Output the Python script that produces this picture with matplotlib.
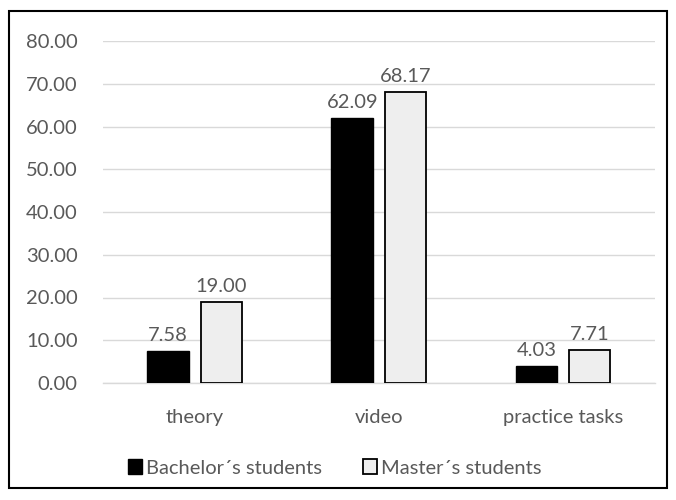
#### Workspace setup ####
import numpy as np
import matplotlib
matplotlib.use("Agg")
import matplotlib.pyplot as plt
from matplotlib.patches import Rectangle

#### Data ####
categories = ["theory", "video", "practice tasks"]
bachelor = [7.58, 62.09, 4.03]
master = [19.00, 68.17, 7.71]
series_names = ["Bachelor\u00b4s students", "Master\u00b4s students"]
y_ticks = [0, 10, 20, 30, 40, 50, 60, 70, 80]

TEXT_GREY = "#595959"
GRID_GREY = "#d9d9d9"
FS = 14.5


def main():
    plt.rcParams["font.family"] = ["Lato", "DejaVu Sans"]
    fig = plt.figure(figsize=(6.76, 5.0), dpi=100)
    ax = fig.add_axes([0.152, 0.234, 0.817, 0.684])

    x = np.arange(len(categories))
    width = 0.225
    gap = 0.065
    off = (width + gap) / 2

    bars_b = ax.bar(x - off, bachelor, width, color="black", edgecolor="black",
                    linewidth=1.0, label=series_names[0], zorder=3)
    bars_m = ax.bar(x + off, master, width, color="#eeeeee", edgecolor="black",
                    linewidth=1.3, label=series_names[1], zorder=3)

    # Data labels
    for bars in (bars_b, bars_m):
        ax.bar_label(bars, labels=[f"{v:.2f}" for v in bars.datavalues],
                     padding=5, fontsize=FS, color=TEXT_GREY)

    # Axes styling
    ax.set_ylim(0, 80)
    ax.set_xlim(-0.5, len(categories) - 0.5)
    ax.set_yticks(y_ticks)
    ax.set_yticklabels([f"{t:.2f}" for t in y_ticks])
    ax.set_xticks(x)
    ax.set_xticklabels(categories)
    ax.tick_params(axis="both", length=0, labelsize=FS, labelcolor=TEXT_GREY)
    ax.tick_params(axis="y", pad=18)
    ax.tick_params(axis="x", pad=19)
    ax.yaxis.grid(True, color=GRID_GREY, linewidth=1.0, zorder=0)
    ax.set_axisbelow(True)
    for side in ("top", "right", "left"):
        ax.spines[side].set_visible(False)
    ax.spines["bottom"].set_color(GRID_GREY)
    ax.spines["bottom"].set_linewidth(1.0)

    # Legend below chart
    fig.legend(loc="center", bbox_to_anchor=(0.495, 0.064), ncol=2, frameon=False,
               fontsize=FS, labelcolor=TEXT_GREY, handlelength=0.7,
               handleheight=0.7, handletextpad=0.2, columnspacing=2.0)

    # Outer chart border
    fig.patches.append(Rectangle((9 / 676, 12 / 500), 658 / 676, 477 / 500,
                                 transform=fig.transFigure, fill=False,
                                 edgecolor="black", linewidth=1.5))

    fig.savefig("out.png", dpi=100)
    plt.close(fig)


if __name__ == "__main__":
    main()
